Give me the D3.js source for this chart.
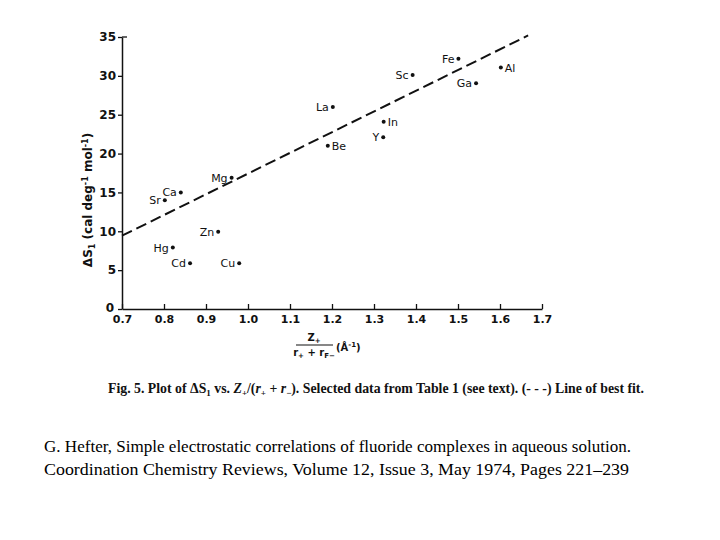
<!DOCTYPE html>
<html><head><meta charset="utf-8">
<script src="https://cdn.jsdelivr.net/npm/d3@7"></script>
<style>body{margin:0;background:#fff}svg{display:block}</style>
</head><body>
<script>
const ions   = ["Sr","Ca","Mg","Hg","Cd","Zn","Cu","La","Be","Y","In","Sc","Fe","Ga","Al"];
const xVals  = [0.802,0.840,0.961,0.821,0.862,0.929,0.979,1.202,1.190,1.322,1.323,1.392,1.501,1.543,1.602];
const yVals  = [14.0,15.0,16.9,7.9,5.9,9.95,5.9,26.0,21.0,22.1,24.1,30.1,32.2,29.05,31.06];
const labelSide = ["L","L","L","L","L","L","L","L","R","L","R","L","L","L","R"];
const fitX = [0.7, 1.667];
const fitY = [9.43, 35.2];
const xTicks = [0.7,0.8,0.9,1.0,1.1,1.2,1.3,1.4,1.5,1.6,1.7];
const xTickLabels = ["0.7","0.8","0.9","1.0","1.1","1.2","1.3","1.4","1.5","1.6","1.7"];
const yTicks = [0,5,10,15,20,25,30,35];

const W=720,H=540;
const svg=d3.select("body").append("svg").attr("width",W).attr("height",H);
const x=d3.scaleLinear().domain([0.7,1.7]).range([122,542]);
const y=d3.scaleLinear().domain([0,35]).range([309,37]);
const ink="#111";
const sans="'DejaVu Sans', sans-serif";

// x axis with inward ticks
const xAxis=svg.append("g").attr("transform","translate(0,309)")
  .call(d3.axisBottom(x).tickValues(xTicks).tickSize(-5).tickSizeOuter(0).tickFormat((d,i)=>xTickLabels[i]));
xAxis.select(".domain").attr("stroke",ink).attr("stroke-width",1.5);
xAxis.selectAll(".tick line").attr("stroke",ink).attr("stroke-width",1.3);
xAxis.selectAll(".tick text").attr("fill",ink).attr("font-family",sans).attr("font-size",11).attr("font-weight","bold")
  .attr("dy","0.55em").attr("y",8);

const yAxis=svg.append("g").attr("transform","translate(122,0)")
  .call(d3.axisLeft(y).tickValues(yTicks).tickSize(4).tickSizeOuter(0));
yAxis.select(".domain").attr("stroke",ink).attr("stroke-width",1.5);
yAxis.selectAll(".tick line").attr("stroke",ink).attr("stroke-width",1.3);
yAxis.selectAll(".tick text").attr("fill",ink).attr("font-family",sans).attr("font-size",12).attr("font-weight","bold").attr("x",-6);
// the zero label sits a little lower-left, off the corner
yAxis.selectAll(".tick").filter(d=>d===0).select("text").attr("x",-8).attr("dy","0.2em");
// top tick mark at 35 pointing right
svg.append("line").attr("x1",122).attr("x2",127).attr("y1",y(35)).attr("y2",y(35)).attr("stroke",ink).attr("stroke-width",1.3);

// best-fit line
svg.append("path").datum(fitX.map((d,i)=>[d,fitY[i]]))
  .attr("d",d3.line().x(d=>x(d[0])).y(d=>y(d[1])))
  .attr("fill","none").attr("stroke",ink).attr("stroke-width",2).attr("stroke-dasharray","11,5");

// points
const pts=svg.append("g");
pts.selectAll("circle").data(ions).join("circle")
  .attr("cx",(d,i)=>x(xVals[i])).attr("cy",(d,i)=>y(yVals[i])).attr("r",2).attr("fill",ink);
pts.selectAll("text").data(ions).join("text")
  .attr("x",(d,i)=>x(xVals[i])+(labelSide[i]==="L"?-4:4))
  .attr("y",(d,i)=>y(yVals[i])+4)
  .attr("text-anchor",(d,i)=>labelSide[i]==="L"?"end":"start")
  .attr("font-family",sans).attr("font-size",11).attr("fill",ink).text(d=>d);

// y label
svg.append("text").attr("transform","translate(92,200) rotate(-90)").attr("text-anchor","middle")
  .attr("font-family",sans).attr("font-size",12).attr("font-weight","bold").attr("fill",ink)
  .html("ΔS<tspan font-size='8' dy='3'>1</tspan><tspan dy='-3'> (cal deg</tspan><tspan font-size='8' dy='-4'>-1</tspan><tspan dy='4'> mol</tspan><tspan font-size='8' dy='-4'>-1</tspan><tspan dy='4'>)</tspan>");

// x label fraction
const fx=314;
svg.append("text").attr("x",fx).attr("y",341).attr("text-anchor","middle").attr("font-family",sans).attr("font-size",10).attr("font-weight","bold").attr("fill",ink)
  .html("Z<tspan font-size='7' dy='2'>+</tspan>");
svg.append("line").attr("x1",296).attr("x2",333).attr("y1",345).attr("y2",345).attr("stroke",ink).attr("stroke-width",1.2);
svg.append("text").attr("x",fx).attr("y",356).attr("text-anchor","middle").attr("font-family",sans).attr("font-size",10).attr("font-weight","bold").attr("fill",ink)
  .html("r<tspan font-size='7' dy='2'>+</tspan><tspan dy='-2'> + r</tspan><tspan font-size='7' dy='2'>F−</tspan>");
svg.append("text").attr("x",336).attr("y",351).attr("font-family",sans).attr("font-size",10).attr("font-weight","bold").attr("fill",ink)
  .html("(Å<tspan font-size='7' dy='-4'>-1</tspan><tspan dy='4'>)</tspan>");

// caption
const serif="'Liberation Serif','Times New Roman',serif";
svg.append("text").attr("x",108).attr("y",393).attr("font-family",serif).attr("font-size",13.8).attr("font-weight","bold").attr("fill",ink)
  .html("Fig. 5. Plot of ΔS<tspan font-size='9' dy='3'>1</tspan><tspan dy='-3'> vs. </tspan><tspan font-style='italic'>Z</tspan><tspan font-size='9' dy='3'>+</tspan><tspan dy='-3'>/(</tspan><tspan font-style='italic'>r</tspan><tspan font-size='9' dy='3'>+</tspan><tspan dy='-3'> + </tspan><tspan font-style='italic'>r</tspan><tspan font-size='9' dy='3'>−</tspan><tspan dy='-3'>). Selected data from Table 1 (see text). (- - -) Line of best fit.</tspan>");

// citation
svg.append("text").attr("x",44).attr("y",452).attr("font-family",serif).attr("font-size",17).attr("fill","#000")
  .attr("textLength",587).attr("lengthAdjust","spacingAndGlyphs")
  .text("G. Hefter, Simple electrostatic correlations of fluoride complexes in aqueous solution.");
svg.append("text").attr("x",44).attr("y",475).attr("font-family",serif).attr("font-size",17).attr("fill","#000")
  .attr("textLength",585).attr("lengthAdjust","spacingAndGlyphs")
  .text("Coordination Chemistry Reviews, Volume 12, Issue 3, May 1974, Pages 221–239");
</script>
</body></html>
